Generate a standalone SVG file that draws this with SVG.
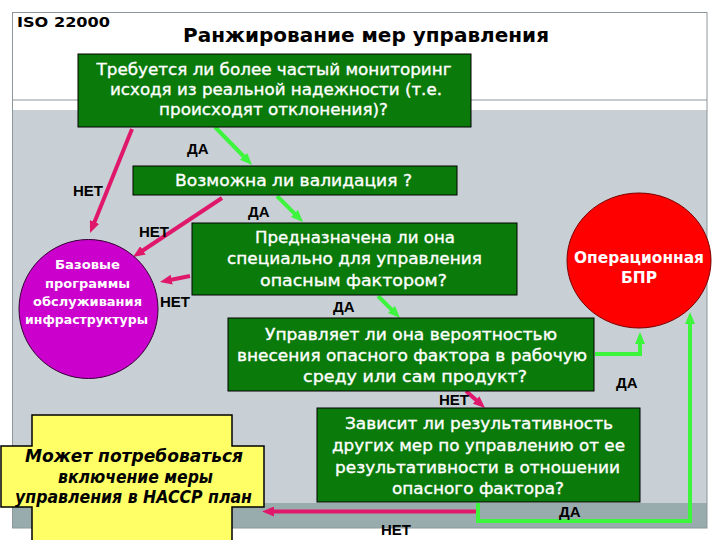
<svg xmlns="http://www.w3.org/2000/svg" width="720" height="540" viewBox="0 0 720 540">
<style>
.box{fill:#0a7a0a;stroke:#000;stroke-width:1}
.bt{font-family:"DejaVu Sans","Noto Sans",sans-serif;font-size:16px;fill:#fff;stroke:#fff;stroke-width:0.35;text-anchor:middle}
.lbl{font-family:"Liberation Sans",Arial,sans-serif;font-size:15px;font-weight:bold;fill:#000}
.mg{fill:none;stroke:#e0186c;stroke-width:4}
.gr{fill:none;stroke:#3df53d;stroke-width:4}
.ct{font-family:"DejaVu Sans","Noto Sans",sans-serif;font-weight:bold;fill:#fff;text-anchor:middle}
.yt{font-family:"DejaVu Sans",sans-serif;font-weight:bold;font-style:italic;font-size:17px;text-anchor:middle;fill:#000}
</style>
<defs>
<marker id="am" markerUnits="userSpaceOnUse" viewBox="0 0 12 10" markerWidth="12" markerHeight="10" refX="3" refY="5" orient="auto"><path d="M0,0 L12,5 L0,10 z" fill="#e0186c"/></marker>
<marker id="ag" markerUnits="userSpaceOnUse" viewBox="0 0 12 10" markerWidth="12" markerHeight="10" refX="3" refY="5" orient="auto"><path d="M0,0 L12,5 L0,10 z" fill="#3df53d"/></marker>
</defs>
<rect width="720" height="540" fill="#fff"/>
<g id="frame">
<rect x="13" y="110" width="694" height="393" fill="#c8d0d5"/>
<rect x="13" y="503" width="694" height="25" fill="#98acae"/>
<line x1="13" y1="100" x2="707" y2="100" stroke="#8c979b" stroke-width="1"/>
<rect x="12.5" y="12.5" width="694.5" height="515.5" fill="none" stroke="#8c979b" stroke-width="1"/>
</g>
<g id="header">
<text x="17" y="27" font-family="DejaVu Sans,sans-serif" font-weight="bold" font-size="14" textLength="93" lengthAdjust="spacingAndGlyphs">ISO 22000</text>
<text x="183" y="42" font-family="DejaVu Sans,sans-serif" font-weight="bold" font-size="19" textLength="366" lengthAdjust="spacingAndGlyphs">Ранжирование мер управления</text>
</g>
<g id="connectors">
<line class="mg" x1="132" y1="129" x2="93.4" y2="224.7" marker-end="url(#am)"/>
<line class="mg" x1="222" y1="198" x2="140.5" y2="252" marker-end="url(#am)"/>
<line class="mg" x1="190" y1="276" x2="168.8" y2="280.2" marker-end="url(#am)"/>
<line class="mg" x1="466" y1="391" x2="478.3" y2="402" marker-end="url(#am)"/>
<line class="mg" x1="478" y1="511.5" x2="271" y2="511.5" marker-end="url(#am)"/>
<line class="gr" x1="215" y1="127" x2="245.7" y2="158.5" marker-end="url(#ag)"/>
<line class="gr" x1="277" y1="196" x2="296.6" y2="215.6" marker-end="url(#ag)"/>
<line class="gr" x1="378" y1="296" x2="393.6" y2="311.6" marker-end="url(#ag)"/>
<polyline class="gr" points="595,354 640,354 640,341" marker-end="url(#ag)"/>
<polyline class="gr" points="478,503 478,521 690,521 690,321" marker-end="url(#ag)"/>
</g>
<g id="q1">
<rect class="box" x="78" y="54" width="393" height="73"/>
<text class="bt" x="274" y="75" textLength="355" lengthAdjust="spacingAndGlyphs">Требуется ли более частый мониторинг</text>
<text class="bt" x="276" y="95" textLength="332" lengthAdjust="spacingAndGlyphs">исходя из реальной надежности (т.е.</text>
<text class="bt" x="273.5" y="115" textLength="229" lengthAdjust="spacingAndGlyphs">происходят отклонения)?</text>
</g>
<g id="q2">
<rect class="box" x="133" y="166" width="324" height="29"/>
<text class="bt" x="293.5" y="186" textLength="237" lengthAdjust="spacingAndGlyphs">Возможна ли валидация ?</text>
</g>
<g id="q3">
<rect class="box" x="192" y="223" width="325" height="72"/>
<text class="bt" x="355" y="243" textLength="200" lengthAdjust="spacingAndGlyphs">Предназначена ли она</text>
<text class="bt" x="354.5" y="264" textLength="255" lengthAdjust="spacingAndGlyphs">специально для управления</text>
<text class="bt" x="353.5" y="286" textLength="187" lengthAdjust="spacingAndGlyphs">опасным фактором?</text>
</g>
<g id="q4">
<rect class="box" x="228" y="318" width="366" height="73"/>
<text class="bt" x="411" y="340" textLength="292" lengthAdjust="spacingAndGlyphs">Управляет ли она вероятностью</text>
<text class="bt" x="412" y="361" textLength="350" lengthAdjust="spacingAndGlyphs">внесения опасного фактора в рабочую</text>
<text class="bt" x="415" y="382" textLength="224" lengthAdjust="spacingAndGlyphs">среду или сам продукт?</text>
</g>
<g id="q5">
<rect class="box" x="317" y="408" width="323" height="94"/>
<text class="bt" x="479" y="429" textLength="268" lengthAdjust="spacingAndGlyphs">Зависит ли результативность</text>
<text class="bt" x="478.5" y="451" textLength="293" lengthAdjust="spacingAndGlyphs">других мер по управлению от ее</text>
<text class="bt" x="477.5" y="473" textLength="285" lengthAdjust="spacingAndGlyphs">результативности в отношении</text>
<text class="bt" x="478" y="494" textLength="172" lengthAdjust="spacingAndGlyphs">опасного фактора?</text>
</g>
<g id="prp">
<circle cx="88.5" cy="309" r="69.5" fill="#cc00cc" stroke="#330033" stroke-width="1"/>
<text class="ct" font-size="13" x="87.5" y="269" textLength="65" lengthAdjust="spacingAndGlyphs">Базовые</text>
<text class="ct" font-size="13" x="87.5" y="288" textLength="85" lengthAdjust="spacingAndGlyphs">программы</text>
<text class="ct" font-size="13" x="87.5" y="306" textLength="109" lengthAdjust="spacingAndGlyphs">обслуживания</text>
<text class="ct" font-size="13" x="86.5" y="324" textLength="123" lengthAdjust="spacingAndGlyphs">инфраструктуры</text>
</g>
<g id="oprp">
<ellipse cx="639" cy="260.5" rx="72" ry="67.5" fill="#ff0000" stroke="#7a0000" stroke-width="1"/>
<text class="ct" font-size="16" x="639" y="263" textLength="130" lengthAdjust="spacingAndGlyphs">Операционная</text>
<text class="ct" font-size="16" x="639" y="283" textLength="36" lengthAdjust="spacingAndGlyphs">БПР</text>
</g>
<g id="haccp">
<polygon points="32,415 232,415 232,446 264,446 264,507 232,507 232,545 32,545 32,507 1,507 1,446 32,446" fill="#ffff66" stroke="#000" stroke-width="1.5"/>
<text class="yt" x="134" y="462" textLength="218" lengthAdjust="spacingAndGlyphs">Может потребоваться</text>
<text class="yt" x="135.5" y="483" textLength="155" lengthAdjust="spacingAndGlyphs">включение меры</text>
<text class="yt" x="133.5" y="503" textLength="237" lengthAdjust="spacingAndGlyphs">управления в HACCP план</text>
</g>
<g id="labels">
<text class="lbl" x="187" y="154">ДА</text>
<text class="lbl" x="73" y="196">НЕТ</text>
<text class="lbl" x="248" y="217">ДА</text>
<text class="lbl" x="139" y="237">НЕТ</text>
<text class="lbl" x="160" y="307">НЕТ</text>
<text class="lbl" x="333" y="312">ДА</text>
<text class="lbl" x="616" y="388">ДА</text>
<text class="lbl" x="439" y="405">НЕТ</text>
<text class="lbl" x="559" y="517">ДА</text>
<text class="lbl" x="381" y="535">НЕТ</text>
</g>
</svg>
